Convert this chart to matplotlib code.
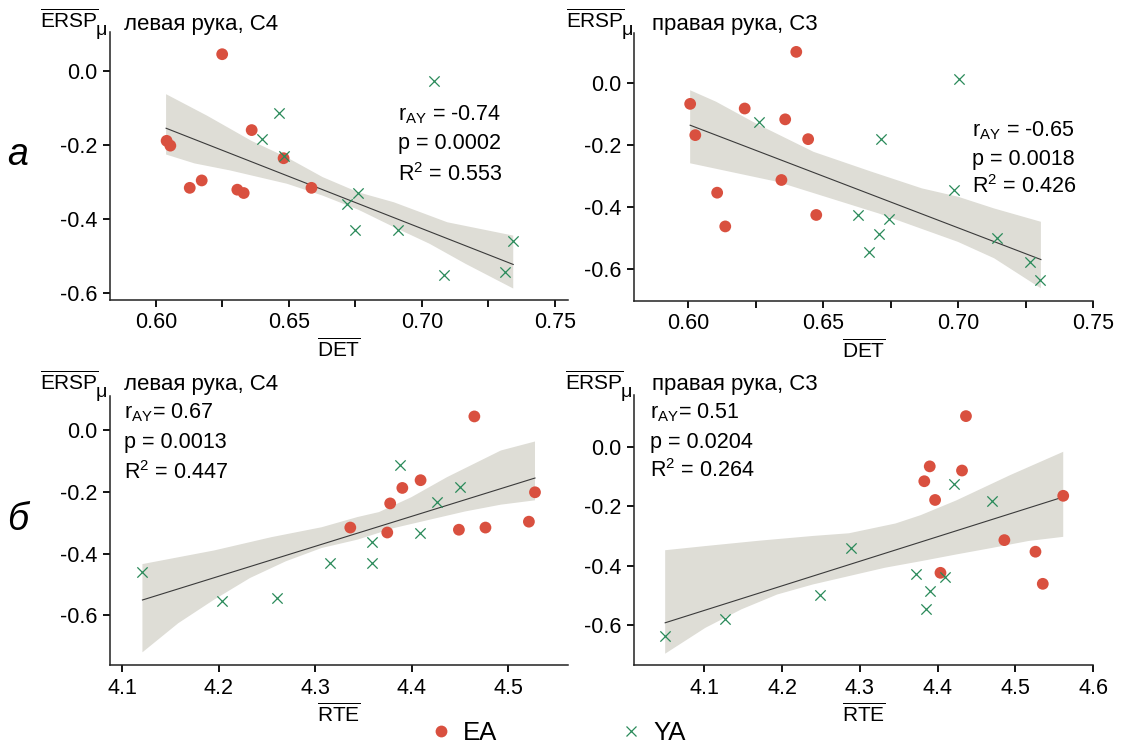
import matplotlib
matplotlib.use("Agg")
import matplotlib.pyplot as plt
from matplotlib.ticker import MultipleLocator, FuncFormatter
from matplotlib.lines import Line2D

plt.rcParams['font.family'] = ['Liberation Sans', 'DejaVu Sans']
plt.rcParams['mathtext.fontset'] = 'custom'
plt.rcParams['mathtext.rm'] = 'Liberation Sans'
plt.rcParams['mathtext.it'] = 'Liberation Sans:italic'
plt.rcParams['axes.unicode_minus'] = False

# ---- data ----
# row а: DET vs ERSP
det_left_ea = [0.6249, 0.6040, 0.6054, 0.6127, 0.6172, 0.6306, 0.6330, 0.6360, 0.6480, 0.6585]
ersp_left_ea_a = [0.045, -0.189, -0.202, -0.316, -0.296, -0.321, -0.330, -0.160, -0.236, -0.316]
det_left_ya = [0.6464, 0.6397, 0.6480, 0.7046, 0.6761, 0.6717, 0.6750, 0.6909, 0.7083, 0.7344, 0.7314]
ersp_left_ya_a = [-0.113, -0.184, -0.229, -0.027, -0.330, -0.361, -0.429, -0.431, -0.552, -0.460, -0.543]

det_right_ea = [0.6401, 0.6008, 0.6027, 0.6210, 0.6360, 0.6445, 0.6346, 0.6108, 0.6138, 0.6475]
ersp_right_ea_a = [0.102, -0.066, -0.167, -0.081, -0.116, -0.180, -0.312, -0.353, -0.462, -0.425]
det_right_ya = [0.6263, 0.7003, 0.6715, 0.6987, 0.6628, 0.6743, 0.6709, 0.6672, 0.7143, 0.7265, 0.7305]
ersp_right_ya_a = [-0.125, 0.015, -0.181, -0.345, -0.425, -0.437, -0.487, -0.546, -0.501, -0.576, -0.635]

# row б: RTE vs ERSP
rte_left_ea = [4.465, 4.3365, 4.3748, 4.3778, 4.3904, 4.4093, 4.449, 4.4765, 4.5215, 4.5278]
ersp_left_ea_b = [0.043, -0.316, -0.332, -0.238, -0.188, -0.163, -0.323, -0.316, -0.297, -0.202]
rte_left_ya = [4.1212, 4.2036, 4.2608, 4.3154, 4.3592, 4.3588, 4.3885, 4.409, 4.4268, 4.4505]
ersp_left_ya_b = [-0.461, -0.552, -0.545, -0.431, -0.362, -0.431, -0.113, -0.332, -0.235, -0.186]

rte_right_ea = [4.4366, 4.390, 4.4315, 4.383, 4.3969, 4.5617, 4.486, 4.526, 4.5354, 4.4038]
ersp_right_ea_b = [0.103, -0.066, -0.080, -0.116, -0.179, -0.165, -0.314, -0.353, -0.461, -0.424]
rte_right_ya = [4.0497, 4.1268, 4.2491, 4.2884, 4.3729, 4.4098, 4.3899, 4.3853, 4.4213, 4.4707]
ersp_right_ya_b = [-0.637, -0.578, -0.500, -0.342, -0.427, -0.439, -0.486, -0.547, -0.125, -0.183]

# regression lines (ends) and confidence bands, as drawn in the picture
fit_a_left_x = [0.6038, 0.7344]
fit_a_left_y = [-0.155, -0.523]
band_a_left_up_x = [0.6038, 0.6192, 0.6359, 0.6493, 0.6627, 0.6761, 0.6895, 0.7096, 0.7344]
band_a_left_up_y = [-0.063, -0.121, -0.189, -0.234, -0.287, -0.328, -0.355, -0.409, -0.445]
band_a_left_lo_x = [0.6038, 0.6145, 0.6279, 0.6493, 0.6627, 0.6761, 0.6895, 0.7029, 0.7164, 0.7344]
band_a_left_lo_y = [-0.226, -0.250, -0.269, -0.305, -0.337, -0.375, -0.422, -0.467, -0.521, -0.588]

fit_a_right_x = [0.6008, 0.7307]
fit_a_right_y = [-0.135, -0.569]
band_a_right_up_x = [0.6008, 0.6104, 0.6251, 0.6465, 0.6679, 0.6866, 0.7000, 0.7134, 0.7307]
band_a_right_up_y = [-0.022, -0.059, -0.129, -0.221, -0.285, -0.339, -0.366, -0.404, -0.447]
band_a_right_lo_x = [0.6008, 0.6332, 0.6706, 0.7000, 0.7134, 0.7307]
band_a_right_lo_y = [-0.258, -0.318, -0.420, -0.512, -0.565, -0.662]

fit_b_left_x = [4.1212, 4.5278]
fit_b_left_y = [-0.550, -0.156]
band_b_left_up_x = [4.1212, 4.1954, 4.2548, 4.3068, 4.344, 4.3662, 4.3997, 4.4368, 4.4925, 4.5278]
band_b_left_up_y = [-0.434, -0.390, -0.347, -0.315, -0.282, -0.266, -0.218, -0.153, -0.067, -0.038]
band_b_left_lo_x = [4.1212, 4.1583, 4.1954, 4.2326, 4.2697, 4.3068, 4.344, 4.3811, 4.4182, 4.4554,
                    4.4925, 4.5278]
band_b_left_lo_y = [-0.719, -0.625, -0.549, -0.479, -0.425, -0.382, -0.355, -0.318, -0.291, -0.264,
                    -0.242, -0.228]

fit_b_right_x = [4.0497, 4.5617]
fit_b_right_y = [-0.592, -0.169]
band_b_right_up_x = [4.0497, 4.1014, 4.1706, 4.2399, 4.2861, 4.3461, 4.3784, 4.4246, 4.4938, 4.5617]
band_b_right_up_y = [-0.348, -0.334, -0.316, -0.300, -0.291, -0.258, -0.230, -0.180, -0.095, -0.017]
band_b_right_lo_x = [4.0497, 4.1014, 4.1476, 4.1937, 4.2399, 4.2861, 4.3322, 4.3784, 4.4246, 4.4707,
                     4.5169, 4.5617]
band_b_right_lo_y = [-0.696, -0.609, -0.547, -0.497, -0.463, -0.435, -0.407, -0.385, -0.362, -0.340,
                     -0.317, -0.303]

stats_a_left = ['-0.74', '0.0002', '0.553']
stats_a_right = ['-0.65', '0.0018', '0.426']
stats_b_left = ['0.67', '0.0013', '0.447']
stats_b_right = ['0.51', '0.0204', '0.264']

red = '#d9503f'
green = '#2a8a5a'
band = '#deddd6'

W, H = 1124, 749
fig = plt.figure(figsize=(W / 100, H / 100), dpi=100)


def px(x0, y0, x1, y1):
    return [x0 / W, 1 - y1 / H, (x1 - x0) / W, (y1 - y0) / H]


def panel(rect, xe, ye, xy, yy, fx, fy, ux, uy, lx, ly, xlim, ylim, xstep, minor):
    ax = fig.add_axes(rect)
    ax.fill(ux + lx[::-1], uy + ly[::-1], color=band, lw=0, zorder=1)
    ax.plot(fx, fy, color='#3a3a3a', lw=0.8, zorder=2)
    ax.scatter(xe, ye, s=72, color=red, edgecolors='none', zorder=3)
    ax.scatter(xy, yy, s=55, marker='x', color=green, linewidths=0.9, zorder=4)
    ax.set_xlim(*xlim)
    ax.set_ylim(*ylim)
    for sp in ['top', 'right']:
        ax.spines[sp].set_visible(False)
    for sp in ['left', 'bottom']:
        ax.spines[sp].set_linewidth(1.1)
        ax.spines[sp].set_color('#222222')
    ax.xaxis.set_major_locator(MultipleLocator(xstep))
    if minor:
        ax.xaxis.set_minor_locator(MultipleLocator(minor))
    ax.yaxis.set_major_locator(MultipleLocator(0.2))
    ax.yaxis.set_major_formatter(FuncFormatter(lambda v, p: '%.1f' % v if abs(v) > 1e-9 else '0.0'))
    if xstep < 0.1:
        ax.xaxis.set_major_formatter(FuncFormatter(lambda v, p: '%.2f' % v))
    else:
        ax.xaxis.set_major_formatter(FuncFormatter(lambda v, p: '%.1f' % v))
    ax.tick_params(which='both', direction='out', length=5, width=1.3, labelsize=15.5, pad=4)
    return ax


ax1 = panel(px(110, 32, 568, 300), det_left_ea, ersp_left_ea_a, det_left_ya, ersp_left_ya_a,
            fit_a_left_x, fit_a_left_y, band_a_left_up_x, band_a_left_up_y,
            band_a_left_lo_x, band_a_left_lo_y, (0.5827, 0.755), (-0.619, 0.105), 0.05, 0.025)
ax2 = panel(px(634, 33, 1093, 301), det_right_ea, ersp_right_ea_a, det_right_ya, ersp_right_ya_a,
            fit_a_right_x, fit_a_right_y, band_a_right_up_x, band_a_right_up_y,
            band_a_right_lo_x, band_a_right_lo_y, (0.58, 0.75), (-0.703, 0.163), 0.05, 0.025)
ax3 = panel(px(110, 396, 568, 665), rte_left_ea, ersp_left_ea_b, rte_left_ya, ersp_left_ya_b,
            fit_b_left_x, fit_b_left_y, band_b_left_up_x, band_b_left_up_y,
            band_b_left_lo_x, band_b_left_lo_y, (4.0876, 4.562), (-0.76, 0.109), 0.1, None)
ax4 = panel(px(634, 395, 1093, 665), rte_right_ea, ersp_right_ea_b, rte_right_ya, ersp_right_ya_b,
            fit_b_right_x, fit_b_right_y, band_b_right_up_x, band_b_right_up_y,
            band_b_right_lo_x, band_b_right_lo_y, (4.0096, 4.6), (-0.734, 0.174), 0.1, None)


def ftext(x, y, s, **kw):
    return fig.text(x / W, 1 - y / H, s, **kw)


renderer = fig.canvas.get_renderer()
for (x, y) in [(40, 28), (566, 28), (40, 390), (565, 390)]:
    t = ftext(x, y, r'$\overline{\mathrm{ERSP}}$', fontsize=15, va='baseline', ha='left')
    bb = t.get_window_extent(renderer)
    ftext(bb.x1 - 3, y + 7, 'μ', fontsize=14, va='baseline', ha='left')

ftext(124, 30, 'левая рука, C4', fontsize=16, va='baseline')
ftext(652, 30, 'правая рука, C3', fontsize=16, va='baseline')
ftext(124, 390, 'левая рука, C4', fontsize=16, va='baseline')
ftext(652, 390, 'правая рука, C3', fontsize=16, va='baseline')

for ax, name in [(ax1, 'DET'), (ax2, 'DET'), (ax3, 'RTE'), (ax4, 'RTE')]:
    ax.set_xlabel(r'$\overline{\mathrm{%s}}$' % name, fontsize=15, labelpad=3)


def stats(x, ys, vals, sp):
    ftext(x, ys[0], r'r$_{\mathrm{AY}}$' + sp + '= ' + vals[0], fontsize=15.5, va='baseline')
    ftext(x, ys[1], 'p = ' + vals[1], fontsize=15.5, va='baseline')
    ftext(x, ys[2], r'R$^{2}$ = ' + vals[2], fontsize=15.5, va='baseline')


stats(398, (120, 149, 181), stats_a_left, ' ')
stats(972, (136, 165, 193), stats_a_right, ' ')
stats(124, (418, 448, 479), stats_b_left, '')
stats(650, (418, 448, 477), stats_b_right, '')

ftext(18, 165, 'а', fontsize=27, style='italic', ha='center', va='baseline')
ftext(18, 530, 'б', fontsize=27, style='italic', ha='center', va='baseline')

handles = [Line2D([], [], ls='none', marker='o', ms=8.5, color=red, mec='none'),
           Line2D([], [], ls='none', marker='x', ms=7.5, mew=0.9, color=green)]
fig.legend(handles, ['EA', 'YA'], loc='center', bbox_to_anchor=(557 / W, 1 - 733 / H), ncol=2,
           frameon=False, fontsize=18.5, handletextpad=0.36, columnspacing=4.7, handlelength=1.0)

fig.savefig('out.png', dpi=100)
